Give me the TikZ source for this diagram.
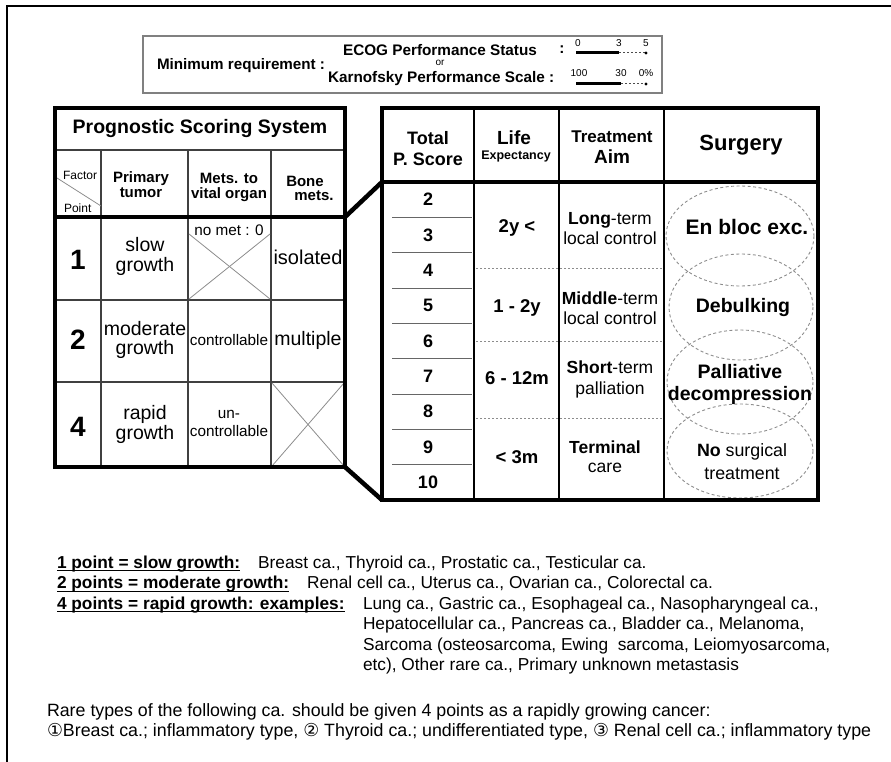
\documentclass[tikz,border=0pt]{standalone}
\usepackage{fontspec}
\setmainfont{Liberation Sans}
\newfontfamily\djv{DejaVu Sans}
\usetikzlibrary{calc}
\newcommand\myfz[2]{\fontsize{#1}{#2}\selectfont}
\begin{document}
\begin{tikzpicture}[x=1pt,y=-1pt,
  every node/.style={inner sep=0pt,outer sep=0pt,align=center},
  brd/.style={line width=4.5pt,line join=miter},
  inl/.style={line width=1.2pt,black!75},
  grl/.style={line width=0.8pt,black!45},
  dotl/.style={line width=1pt,black!45,dash pattern=on 1.5pt off 2.5pt},
  ell/.style={line width=0.9pt,black!45,dash pattern=on 3pt off 2.5pt},
  boxl/.style={line width=1.3pt,black!50}]
\useasboundingbox (0,0) rectangle (891,762);
% outer frame
\draw[line width=1.5pt] (7,762) -- (7,6) -- (891,6);

% ---------- top box ----------
\draw[boxl] (143,36) rectangle (662,93);
\node[font=\bfseries\myfz{15.2}{17},anchor=west] (minreq) at (157,66) {Minimum requirement :};
\node[font=\bfseries\myfz{15.3}{17}] (ecog) at (440,50) {ECOG Performance Status};
\node[font=\myfz{10}{12}] (orw) at (440,63) {or};
\node[font=\bfseries\myfz{15.3}{17},anchor=west] (karn) at (328,79) {Karnofsky Performance Scale :};
\node[font=\bfseries\myfz{15.3}{17}] (ecogc) at (562,50) {:};
\coordinate (e0) at (576,53);
\coordinate (e3) at (619,53);
\coordinate (e5) at (646,53);
\coordinate (k0) at (576,84);
\coordinate (k3) at (621,84);
\coordinate (k5) at (646,84);
\draw[line width=3pt] (e0) -- (e3);
\draw[dotl,black!70] (e3) -- (e5);
\fill (e5) circle (1.6);
\draw[line width=3pt] (k0) -- (k3);
\draw[dotl,black!70] (k3) -- (k5);
\fill (k5) circle (1.6);
\node[font=\myfz{10}{12}] (l0) at (578,43) {0};
\node[font=\myfz{10}{12}] (l3) at (619,43) {3};
\node[font=\myfz{10}{12}] (l5) at (646,43) {5};
\node[font=\myfz{10}{12}] (l100) at (579,73) {100};
\node[font=\myfz{10}{12}] (l30) at (621,73) {30};
\node[font=\myfz{10}{12}] (l0p) at (646,73) {0\%};

% ---------- left table ----------
\draw[inl] (55,150) -- (345,150);
\draw[inl] (101,150) -- (101,467);
\draw[inl] (188,150) -- (188,467);
\draw[inl] (271,150) -- (271,467);
\draw[inl] (55,300) -- (345,300);
\draw[inl] (55,382) -- (345,382);
\draw[grl] (57,178) -- (101,206);
\draw[grl] (189,234) -- (270,299);
\draw[grl] (270,234) -- (189,299);
\draw[grl] (272,383) -- (344,466);
\draw[grl] (344,383) -- (272,466);
\draw[brd] (55,108) rectangle (345,467);
\draw[brd] (55,217) -- (345,217);

\node[font=\bfseries\myfz{19.5}{22}] (pss) at (200,129) {Prognostic Scoring System};
\node[font=\myfz{12}{14},anchor=west] (factor) at (63,175) {Factor};
\node[font=\myfz{12}{14},anchor=west] (point) at (64,208) {Point};
\node[font=\bfseries\myfz{15}{15}] (prim) at (141,185) {Primary\\tumor};
\node[font=\bfseries\myfz{15}{15}] (mets) at (229,187) {Mets. to\\vital organ};
\node[font=\bfseries\myfz{15}{15}] (bone) at (305,181) {Bone};
\node[font=\bfseries\myfz{15}{15}] (bmets) at (314,196) {mets.};

\node[font=\bfseries\myfz{28}{30}] (p1) at (78,260) {1};
\node[font=\bfseries\myfz{28}{30}] (p2) at (78,340) {2};
\node[font=\bfseries\myfz{28}{30}] (p4) at (78,427) {4};
\node[font=\myfz{19.5}{20}] (slow) at (145,256) {slow\\growth};
\node[font=\myfz{19.5}{19}] (mod) at (145,340) {moderate\\growth};
\node[font=\myfz{19.5}{20}] (rapid) at (145,424) {rapid\\growth};
\node[font=\myfz{15.3}{17}] (nomet) at (229,230) {no met : 0};
\node[font=\myfz{15.3}{17}] (ctrl) at (229,340) {controllable};
\node[font=\myfz{15.3}{18}] (unctrl) at (229,423) {un-\\controllable};
\node[font=\myfz{20}{22}] (iso) at (308,257) {isolated};
\node[font=\myfz{19.5}{22}] (mult) at (308,340) {multiple};

% ---------- right table ----------
\draw[inl,line width=1.5pt,black] (474,108) -- (474,500);
\draw[inl,line width=1.5pt,black] (559,108) -- (559,500);
\draw[inl,line width=1.5pt,black] (664,108) -- (664,500);
\foreach \i in {1,...,8} \draw[grl,black!60] (392,{182+35.33*\i}) -- (472,{182+35.33*\i});
\draw[dotl] (476,268) -- (662,268);
\draw[dotl] (476,341) -- (662,341);
\draw[dotl] (476,418) -- (662,418);
\draw[ell] (740,236) ellipse [x radius=74,y radius=50];
\draw[ell] (741,307) ellipse [x radius=72,y radius=53];
\draw[ell] (740,382) ellipse [x radius=73,y radius=52];
\draw[ell] (740,451) ellipse [x radius=73,y radius=47];
\draw[brd] (382,108) rectangle (818,500);
\draw[brd] (382,182) -- (818,182);
% connectors
\coordinate (lc1) at (345,217);
\coordinate (rc1) at (382,182);
\coordinate (lc2) at (345,467);
\coordinate (rc2) at (382,500);
\draw[brd] (lc1) -- (rc1);
\draw[brd] (lc2) -- (rc2);

\node[font=\bfseries\myfz{18}{21}] (tot) at (428,149) {Total\\P. Score};
\node[font=\bfseries\myfz{19}{21}] (life) at (514,138) {Life};
\node[font=\bfseries\myfz{12.5}{14}] (expc) at (516,156) {Expectancy};
\node[font=\bfseries\myfz{17}{19}] (treat) at (612,137) {Treatment};
\node[font=\bfseries\myfz{19}{21}] (aim) at (612,157) {Aim};
\node[font=\bfseries\myfz{22}{24}] (surg) at (741,145) {Surgery};

\foreach \n [count=\i from 0] in {2,...,10}
  \node[font=\bfseries\myfz{18}{20}] (s\n) at (428,{199.7+35.33*\i}) {\n};

\node[font=\bfseries\myfz{18.5}{20}] (le1) at (517,228) {2y <};
\node[font=\bfseries\myfz{18.5}{20}] (le2) at (517,308) {1 - 2y};
\node[font=\bfseries\myfz{18.5}{20}] (le3) at (517,378) {6 - 12m};
\node[font=\bfseries\myfz{18.5}{20}] (le4) at (517,457) {< 3m};

\node[font=\myfz{17.5}{20}] (ta1) at (610,229) {\textbf{Long}-term\\local control};
\node[font=\myfz{17.5}{20}] (ta2) at (610,308) {\textbf{Middle}-term\\local control};
\node[font=\myfz{17.5}{21}] (ta3) at (610,379) {\textbf{Short}-term\\palliation};
\node[font=\myfz{17.5}{19}] (ta4) at (605,457) {\textbf{Terminal}\\care};

\node[font=\bfseries\myfz{21}{23}] (sg1) at (747,227) {En bloc exc.};
\node[font=\bfseries\myfz{19.5}{22}] (sg2) at (743,308) {Debulking};
\node[font=\bfseries\myfz{19.5}{22}] (sg3) at (740,384) {Palliative\\decompression};
\node[font=\myfz{17.8}{23}] (sg4) at (742,462) {\textbf{No} surgical\\treatment};

% ---------- bottom text ----------
\node[font=\bfseries\myfz{17.3}{20.5},anchor=base west] (b1) at (57,568) {1 point = slow growth:};
\node[font=\bfseries\myfz{17.3}{20.5},anchor=base west] (b2) at (57,588.5) {2 points = moderate growth:};
\node[font=\bfseries\myfz{17.3}{20.5},anchor=base west] (b4) at (57,609) {4 points = rapid growth: examples:};
\draw[line width=0.8pt] ([yshift=-2.5]b1.base west) -- ([yshift=-2.5]b1.base east);
\draw[line width=0.8pt] ([yshift=-2.5]b2.base west) -- ([yshift=-2.5]b2.base east);
\draw[line width=0.8pt] ([yshift=-2.5]b4.base west) -- ([yshift=-2.5]b4.base east);
\node[font=\myfz{17.3}{20.5},anchor=base west] (t1) at ($(b1.base east)+(18,0)$) {Breast ca., Thyroid ca., Prostatic ca., Testicular ca.};
\node[font=\myfz{17.3}{20.5},anchor=base west] (t2) at ($(b2.base east)+(18,0)$) {Renal cell ca., Uterus ca., Ovarian ca., Colorectal ca.};
\node[font=\myfz{17.3}{20.5},anchor=north west,align=left] (t4) at (363,0 |- b4.north) {Lung ca., Gastric ca., Esophageal ca., Nasopharyngeal ca.,\\Hepatocellular ca., Pancreas ca., Bladder ca., Melanoma,\\Sarcoma (osteosarcoma, Ewing\ \ sarcoma, Leiomyosarcoma,\\etc), Other rare ca., Primary unknown metastasis};
\node[font=\myfz{17.8}{20},anchor=base west] (rare) at (47,716) {Rare types of the following ca. should be given 4 points as a rapidly growing cancer:};
\node[font=\myfz{17.8}{20},anchor=base west] (rare2) at (47,736) {{\djv ①}Breast ca.; inflammatory type, {\djv ②} Thyroid ca.; undifferentiated type, {\djv ③} Renal cell ca.; inflammatory type};
\end{tikzpicture}
\end{document}
